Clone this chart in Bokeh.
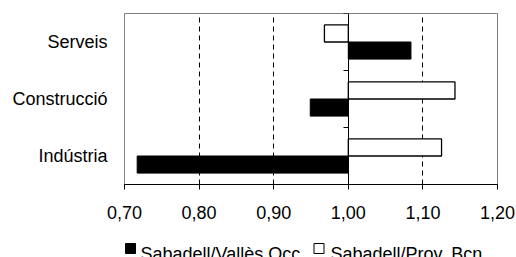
from bokeh.plotting import figure
from bokeh.layouts import column
from bokeh.models import (Range1d, LinearAxis, FixedTicker, ColumnDataSource)
from bokeh.core.properties import value
from bokeh.transform import dodge
from bokeh.embed import file_html
from bokeh.resources import INLINE

# ---- data ----
categories = ["Indústria", "Construcció", "Serveis"]
series_names = ["Sabadell/Vallès Occ.", "Sabadell/Prov. Bcn"]
series_fill = ["black", "white"]
valles_occ = [0.717, 0.949, 1.084]
prov_bcn = [1.125, 1.143, 0.968]
x_ticks = [0.70, 0.80, 0.90, 1.00, 1.10, 1.20]
x_tick_labels = ["0,70", "0,80", "0,90", "1,00", "1,10", "1,20"]
baseline = 1.00

FONT = "Liberation Sans"
FS = "18px"
FRAME_W = 373
LEFT, RIGHT = 124, 19

cat_pos = [i + 0.5 for i in range(len(categories))]
src = ColumnDataSource(dict(pos=cat_pos, valles=valles_occ, prov=prov_bcn))

p = figure(frame_width=FRAME_W, frame_height=171,
           min_border_left=LEFT, min_border_top=13, min_border_right=RIGHT, min_border_bottom=52,
           y_range=Range1d(0, len(categories)),
           x_range=Range1d(x_ticks[0], x_ticks[-1]),
           output_backend="svg", toolbar_location=None)

p.outline_line_color = "#808080"
p.background_fill_color = "white"
p.border_fill_color = "white"

# grid
p.ygrid.visible = False
p.xgrid.ticker = FixedTicker(ticks=[t for t in x_ticks if t not in (x_ticks[0], x_ticks[-1], baseline)])
p.xgrid.grid_line_color = "black"
p.xgrid.grid_line_dash = "5 4"
p.xgrid.grid_line_width = 1

# bars
r1 = p.hbar(y=dodge("pos", -0.15), left=baseline, right="valles",
            height=0.3, fill_color=series_fill[0], line_color="black", line_width=1, source=src)
r2 = p.hbar(y=dodge("pos", 0.15), left=baseline, right="prov",
            height=0.3, fill_color=series_fill[1], line_color="black", line_width=1.3, source=src)

# x axis
xa = p.xaxis[0]
xa.ticker = FixedTicker(ticks=x_ticks)
xa.major_label_overrides = {t: l for t, l in zip(x_ticks, x_tick_labels)}
xa.minor_tick_line_color = None
xa.major_tick_in = 0
xa.major_tick_out = 5
xa.axis_line_color = "black"
xa.major_tick_line_color = "black"
xa.major_label_text_font = FONT
xa.major_label_text_font_size = FS
xa.major_label_text_color = "black"
xa.major_label_standoff = 16

# category labels
ya = p.yaxis[0]
ya.ticker = FixedTicker(ticks=cat_pos)
ya.major_label_overrides = {t: c for t, c in zip(cat_pos, categories)}
ya.axis_line_color = None
ya.major_tick_line_color = None
ya.minor_tick_line_color = None
ya.major_label_standoff = 11
ya.major_label_text_font = FONT
ya.major_label_text_font_size = FS
ya.major_label_text_color = "black"

# value axis crossing at 1.00 with ticks at category boundaries
cross = LinearAxis(fixed_location=baseline,
                   ticker=FixedTicker(ticks=list(range(len(categories) + 1))),
                   major_tick_in=5, major_tick_out=0, minor_tick_line_color=None,
                   axis_line_color="black", major_tick_line_color="black",
                   major_label_text_font_size="0px", major_label_text_color=None,
                   major_label_standoff=0)
p.add_layout(cross, "right")

# ---- legend strip: a small figure whose frame lines up with the main frame ----
LEG_H = 21
leg = figure(frame_width=FRAME_W, frame_height=LEG_H,
             min_border_left=LEFT, min_border_right=RIGHT, min_border_top=0, min_border_bottom=0,
             x_range=Range1d(0, FRAME_W), y_range=Range1d(0, LEG_H),
             x_axis_type=None, y_axis_type=None,
             output_backend="svg", toolbar_location=None)
leg.outline_line_color = None
leg.grid.visible = False
leg.background_fill_color = "white"
leg.border_fill_color = "white"

# pixel offsets from the frame's left edge
sq_x = [6, 194.5]
txt_x = [16, 206]
leg_src = ColumnDataSource(dict(sx=sq_x, sy=[9, 9], tx=txt_x, ty=[4, 4],
                                fill=series_fill, label=series_names))
leg.scatter(x="sx", y="sy", marker="square", size=10, fill_color="fill",
            line_color="black", line_width=1, source=leg_src)
leg.text(x="tx", y="ty", text="label", text_font=value(FONT), text_font_size=value(FS),
         text_color="black", text_align="left", text_baseline="alphabetic", source=leg_src)

layout = column(p, leg, spacing=0)

open("out.html", "w").write(file_html(layout, INLINE))
